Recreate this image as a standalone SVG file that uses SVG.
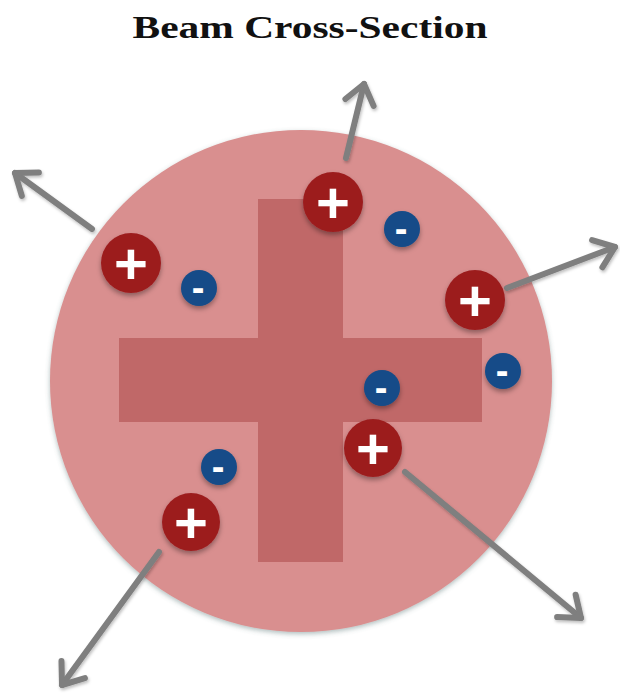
<svg xmlns="http://www.w3.org/2000/svg" width="620" height="693" viewBox="0 0 620 693">
<style>
.title{font-family:"Liberation Serif","DejaVu Serif",serif;font-weight:bold;font-size:32px;fill:#111}
.pos circle{fill:#9C1C1F}
.neg circle{fill:#144B88}
.sign{font-family:"Liberation Sans",Arial,sans-serif;font-weight:bold;fill:#ffffff;text-anchor:middle}
.plus{font-size:58px}
.minus{font-size:38px}
.arrow{fill:none;stroke:#7f7f7f;stroke-width:6;stroke-linecap:round}
</style>
<defs>
<filter id="shBig" x="-10%" y="-10%" width="120%" height="120%">
<feDropShadow dx="0" dy="2" stdDeviation="2.5" flood-color="#4f6f6f" flood-opacity="0.45"/>
</filter>
<filter id="shIon" x="-40%" y="-40%" width="180%" height="180%">
<feDropShadow dx="0" dy="3" stdDeviation="2.5" flood-color="#000" flood-opacity="0.35"/>
</filter>
<filter id="shArr" x="-20%" y="-20%" width="140%" height="140%">
<feDropShadow dx="1" dy="2" stdDeviation="1.5" flood-color="#000" flood-opacity="0.25"/>
</filter>
<marker id="ah" markerUnits="userSpaceOnUse" markerWidth="50" markerHeight="50" viewBox="-30 -25 50 50" refX="0" refY="0" orient="auto" overflow="visible">
<path d="M-19,-14.5 L0,0 L-19,14.5" fill="none" stroke="#7f7f7f" stroke-width="6" stroke-linecap="round" stroke-linejoin="round"/>
</marker>
</defs>
<rect width="620" height="693" fill="#ffffff"/>
<text class="title" x="310" y="38" text-anchor="middle" textLength="355" lengthAdjust="spacingAndGlyphs">Beam Cross-Section</text>
<g id="beam">
<circle cx="301" cy="381" r="251" fill="#D98F8F" filter="url(#shBig)"/>
<path d="M258,199 H343 V338 H482 V422 H343 V562 H258 V422 H119 V338 H258 Z" fill="#C06868"/>
</g>
<g id="connectors" filter="url(#shArr)">
<line class="arrow" x1="346" y1="158" x2="364" y2="84" marker-end="url(#ah)"/>
<line class="arrow" x1="92" y1="229" x2="15" y2="173" marker-end="url(#ah)"/>
<line class="arrow" x1="507" y1="288" x2="615" y2="247" marker-end="url(#ah)"/>
<line class="arrow" x1="405" y1="472" x2="581" y2="618" marker-end="url(#ah)"/>
<line class="arrow" x1="159" y1="552" x2="62" y2="685" marker-end="url(#ah)"/>
</g>
<g id="ion-p1" class="pos"><circle cx="333" cy="202" r="30" filter="url(#shIon)"/><text class="sign plus" x="333" y="223">+</text></g>
<g id="ion-p2" class="pos"><circle cx="131" cy="263" r="30" filter="url(#shIon)"/><text class="sign plus" x="131" y="284">+</text></g>
<g id="ion-p3" class="pos"><circle cx="475" cy="300" r="30" filter="url(#shIon)"/><text class="sign plus" x="475" y="321">+</text></g>
<g id="ion-p4" class="pos"><circle cx="373" cy="448" r="29" filter="url(#shIon)"/><text class="sign plus" x="373" y="469">+</text></g>
<g id="ion-p5" class="pos"><circle cx="191" cy="522" r="29" filter="url(#shIon)"/><text class="sign plus" x="191" y="543">+</text></g>
<g id="ion-n1" class="neg"><circle cx="402" cy="229" r="18" filter="url(#shIon)"/><text class="sign minus" x="401" y="242">-</text></g>
<g id="ion-n2" class="neg"><circle cx="199" cy="288" r="18" filter="url(#shIon)"/><text class="sign minus" x="198" y="301">-</text></g>
<g id="ion-n3" class="neg"><circle cx="503" cy="371" r="18" filter="url(#shIon)"/><text class="sign minus" x="502" y="384">-</text></g>
<g id="ion-n4" class="neg"><circle cx="382" cy="388" r="18" filter="url(#shIon)"/><text class="sign minus" x="381" y="401">-</text></g>
<g id="ion-n5" class="neg"><circle cx="219" cy="467" r="18" filter="url(#shIon)"/><text class="sign minus" x="218" y="480">-</text></g>
</svg>
